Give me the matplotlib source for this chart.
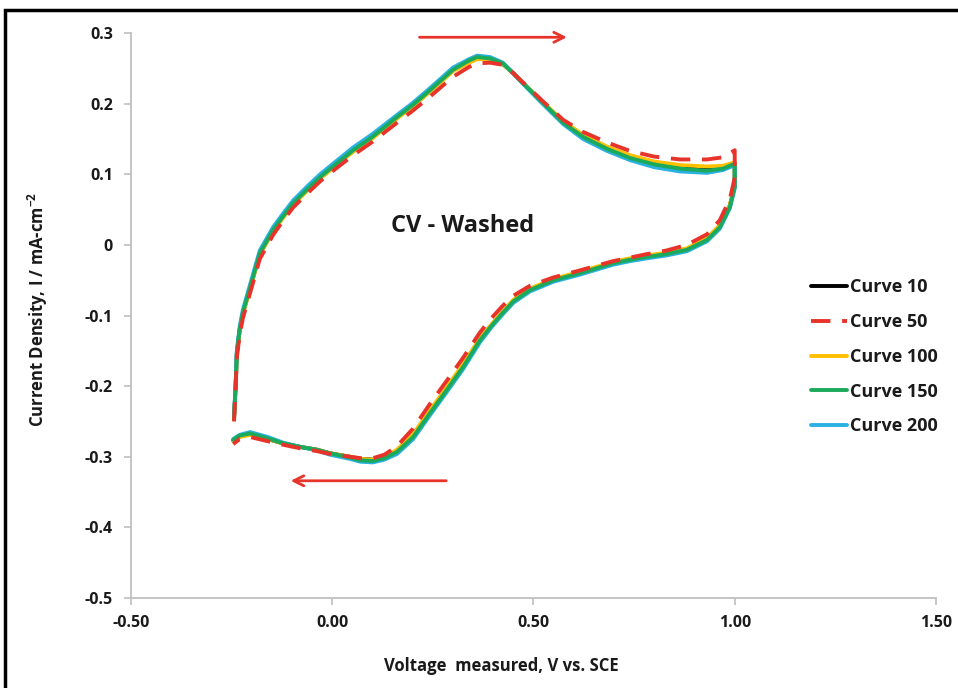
"""
Cyclic voltammogram (CV - Washed), curves 10 to 200.
"""

import matplotlib
matplotlib.use('Agg')
import matplotlib.pyplot as plt
from matplotlib.patches import Rectangle

plt.rcParams['font.family'] = ['Open Sans', 'DejaVu Sans']
plt.rcParams['axes.unicode_minus'] = False
plt.rcParams['mathtext.fontset'] = 'custom'
plt.rcParams['mathtext.rm'] = 'Open Sans'
plt.rcParams['mathtext.bf'] = 'Open Sans:bold'

# potential along the loop: anodic sweep, then cathodic sweep back
V = [-0.244, -0.240, -0.237, -0.230, -0.222, -0.204, -0.180, -0.147, -0.120, -0.097,
     -0.060, -0.030, 0.000, 0.052, 0.100, 0.161, 0.200, 0.243, 0.300, 0.340,
     0.360, 0.392, 0.424, 0.450, 0.474, 0.524, 0.574, 0.623, 0.683, 0.740,
     0.800, 0.864, 0.931, 0.971, 1.000,
     1.000, 0.988, 0.963, 0.931, 0.881, 0.830, 0.782, 0.740, 0.698, 0.616,
     0.550, 0.491, 0.450, 0.424, 0.395, 0.367, 0.325, 0.285, 0.243, 0.201,
     0.161, 0.130, 0.101, 0.070, 0.044, -0.006, -0.038, -0.080, -0.122, -0.160,
     -0.204, -0.230, -0.246]

I_10 = [-0.246, -0.201, -0.154, -0.121, -0.097, -0.061, -0.013, 0.020, 0.041, 0.058,
        0.079, 0.095, 0.109, 0.133, 0.152, 0.180, 0.197, 0.218, 0.247, 0.259,
        0.264, 0.263, 0.256, 0.243, 0.229, 0.201, 0.174, 0.155, 0.138, 0.126,
        0.117, 0.111, 0.108, 0.110, 0.116,
        0.083, 0.056, 0.027, 0.009, -0.006, -0.012, -0.016, -0.020, -0.025, -0.039,
        -0.049, -0.063, -0.079, -0.095, -0.114, -0.134, -0.171, -0.203, -0.236, -0.270,
        -0.292, -0.301, -0.304, -0.303, -0.300, -0.295, -0.290, -0.286, -0.281, -0.275,
        -0.268, -0.271, -0.277]

I_50 = [-0.250, -0.205, -0.160, -0.128, -0.104, -0.068, -0.020, 0.014, 0.036, 0.053,
        0.074, 0.090, 0.104, 0.127, 0.146, 0.173, 0.190, 0.210, 0.238, 0.252,
        0.257, 0.258, 0.255, 0.243, 0.230, 0.203, 0.177, 0.160, 0.145, 0.133,
        0.125, 0.121, 0.121, 0.124, 0.134,
        0.095, 0.065, 0.035, 0.015, 0.000, -0.008, -0.013, -0.018, -0.023, -0.036,
        -0.046, -0.058, -0.072, -0.086, -0.104, -0.124, -0.160, -0.192, -0.225, -0.260,
        -0.285, -0.297, -0.302, -0.302, -0.300, -0.296, -0.292, -0.288, -0.283, -0.278,
        -0.272, -0.275, -0.282]

I_100 = [-0.247, -0.202, -0.155, -0.122, -0.098, -0.062, -0.014, 0.019, 0.040, 0.057,
         0.078, 0.094, 0.108, 0.132, 0.151, 0.179, 0.196, 0.217, 0.246, 0.258,
         0.263, 0.263, 0.256, 0.243, 0.229, 0.202, 0.175, 0.156, 0.139, 0.127,
         0.118, 0.113, 0.111, 0.112, 0.117,
         0.084, 0.057, 0.028, 0.010, -0.005, -0.011, -0.015, -0.019, -0.024, -0.038,
         -0.048, -0.062, -0.078, -0.094, -0.113, -0.132, -0.169, -0.201, -0.234, -0.268,
         -0.290, -0.300, -0.304, -0.303, -0.300, -0.295, -0.290, -0.286, -0.281, -0.275,
         -0.269, -0.272, -0.278]

I_150 = [-0.245, -0.200, -0.153, -0.120, -0.096, -0.060, -0.012, 0.021, 0.042, 0.059,
         0.080, 0.096, 0.110, 0.134, 0.153, 0.181, 0.198, 0.219, 0.248, 0.261,
         0.266, 0.264, 0.257, 0.243, 0.229, 0.201, 0.173, 0.153, 0.136, 0.123,
         0.114, 0.108, 0.105, 0.108, 0.115,
         0.082, 0.054, 0.025, 0.007, -0.007, -0.013, -0.017, -0.021, -0.026, -0.040,
         -0.050, -0.064, -0.080, -0.096, -0.115, -0.135, -0.173, -0.205, -0.238, -0.272,
         -0.293, -0.302, -0.306, -0.305, -0.301, -0.295, -0.290, -0.286, -0.281, -0.274,
         -0.267, -0.270, -0.276]

I_200 = [-0.243, -0.197, -0.150, -0.116, -0.092, -0.056, -0.008, 0.025, 0.046, 0.063,
         0.084, 0.100, 0.114, 0.138, 0.157, 0.184, 0.201, 0.222, 0.251, 0.263,
         0.268, 0.266, 0.258, 0.243, 0.228, 0.199, 0.171, 0.150, 0.133, 0.120,
         0.110, 0.104, 0.102, 0.106, 0.113,
         0.080, 0.052, 0.023, 0.005, -0.009, -0.015, -0.019, -0.023, -0.028, -0.042,
         -0.052, -0.066, -0.082, -0.098, -0.117, -0.138, -0.176, -0.208, -0.241, -0.275,
         -0.296, -0.304, -0.308, -0.307, -0.303, -0.297, -0.291, -0.286, -0.280, -0.272,
         -0.265, -0.269, -0.275]

CURVES = ['Curve 10', 'Curve 50', 'Curve 100', 'Curve 150', 'Curve 200']
XTICKS = [-0.5, 0.0, 0.5, 1.0, 1.5]
XTICK_LABELS = ['-0.50', '0.00', '0.50', '1.00', '1.50']
YTICKS = [0.3, 0.2, 0.1, 0.0, -0.1, -0.2, -0.3, -0.4, -0.5]
YTICK_LABELS = ['0.3', '0.2', '0.1', '0', '-0.1', '-0.2', '-0.3', '-0.4', '-0.5']

fig = plt.figure(figsize=(9.58, 6.88), dpi=100)
ax = fig.add_axes([0.1367, 0.1308, 0.8403, 0.8212])

styles = [
    dict(color='#000000', ls='-', zorder=2),
    dict(color='#E8332A', ls=(0, (5, 3)), zorder=6),
    dict(color='#FFC000', ls='-', zorder=3),
    dict(color='#1BAA5C', ls='-', zorder=5),
    dict(color='#2BB0E2', ls='-', zorder=4),
]
for name, cur, st in zip(CURVES, [I_10, I_50, I_100, I_150, I_200], styles):
    ax.plot(V, cur, lw=2.8, label=name, solid_capstyle='round', **st)

ax.set_xlim(-0.5, 1.5)
ax.set_ylim(-0.5, 0.3)
ax.set_xticks(XTICKS)
ax.set_xticklabels(XTICK_LABELS)
ax.set_yticks(YTICKS)
ax.set_yticklabels(YTICK_LABELS)
for s in ['top', 'right']:
    ax.spines[s].set_visible(False)
for s in ['left', 'bottom']:
    ax.spines[s].set_color('#BFBFBF')
    ax.spines[s].set_linewidth(1.3)
ax.tick_params(axis='both', direction='out', length=5, width=1.2, color='#BFBFBF',
               labelsize=11.5, labelcolor='#1a1a1a')
ax.tick_params(axis='y', pad=8)
ax.tick_params(axis='x', pad=7)
for lbl in ax.get_xticklabels() + ax.get_yticklabels():
    lbl.set_fontweight('bold')

ax.set_xlabel('Voltage  measured, V vs. SCE', fontsize=12, fontweight='bold',
              color='#1a1a1a')
ax.xaxis.set_label_coords(0.46, -0.104)
ax.set_ylabel(r'Current Density, I / mA-cm$^{\mathbf{-2}}$', fontsize=12,
              fontweight='bold', color='#1a1a1a')
ax.yaxis.set_label_coords(-0.1, 0.511)

ax.text(0.325, 0.027, 'CV - Washed', fontsize=17, fontweight='bold',
        ha='center', va='center', color='#1a1a1a')

# sweep direction arrows
arrow = dict(arrowstyle='->', color='#E8332A', lw=2, mutation_scale=18)
ax.annotate('', xy=(0.59, 0.294), xytext=(0.21, 0.294), arrowprops=arrow)
ax.annotate('', xy=(-0.11, -0.334), xytext=(0.29, -0.334), arrowprops=arrow)

leg = ax.legend(loc='upper left', bbox_to_anchor=(795 / 958, 1 - 262 / 688),
                bbox_transform=fig.transFigure, frameon=False, fontsize=13,
                handlelength=2.0, handletextpad=0.15, labelspacing=0.93)
for t in leg.get_texts():
    t.set_fontweight('bold')
    t.set_color('#1a1a1a')

# outer frame of the figure (cut off on right and bottom)
fig.patches.append(Rectangle((5 / 958, -0.1), 1.2, 1.1 - 10 / 688, fill=False,
                             ec='black', lw=2.5, transform=fig.transFigure))

fig.savefig('out.png', dpi=100)
